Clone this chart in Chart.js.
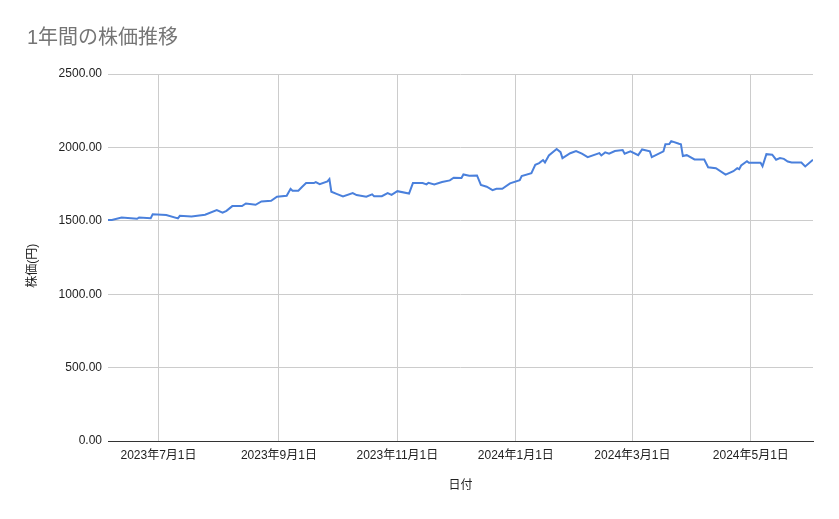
<!DOCTYPE html>
<html>
<head>
<meta charset="utf-8">
<script src="https://cdn.jsdelivr.net/npm/chart.js@4"></script>
<style>
  body { margin: 0; background: #fff; }
  #wrap { width: 839px; height: 519px; }
</style>
</head>
<body>
<div id="wrap"><canvas id="stock_chart"></canvas></div>
<script>
// data
const dates = [
    '2023-06-05', '2023-06-07', '2023-06-12', '2023-06-20', '2023-06-21', '2023-06-27', '2023-06-28',
    '2023-07-05', '2023-07-11', '2023-07-12', '2023-07-18', '2023-07-25', '2023-07-31',
    '2023-08-03', '2023-08-05', '2023-08-08', '2023-08-13', '2023-08-15', '2023-08-20', '2023-08-23', '2023-08-28', '2023-08-31',
    '2023-09-05', '2023-09-07', '2023-09-08', '2023-09-11', '2023-09-13', '2023-09-15', '2023-09-19', '2023-09-20', '2023-09-22', '2023-09-26', '2023-09-27', '2023-09-28',
    '2023-10-01', '2023-10-04', '2023-10-09', '2023-10-11', '2023-10-16', '2023-10-19', '2023-10-20', '2023-10-24', '2023-10-27', '2023-10-29',
    '2023-11-01', '2023-11-07', '2023-11-09', '2023-11-14', '2023-11-16', '2023-11-17', '2023-11-20', '2023-11-24', '2023-11-28', '2023-11-30',
    '2023-12-04', '2023-12-05', '2023-12-08', '2023-12-12', '2023-12-14', '2023-12-17', '2023-12-20', '2023-12-22', '2023-12-25', '2023-12-29',
    '2024-01-03', '2024-01-04', '2024-01-09', '2024-01-11', '2024-01-13', '2024-01-15', '2024-01-16', '2024-01-18', '2024-01-22', '2024-01-24', '2024-01-25', '2024-01-29',
    '2024-02-01', '2024-02-04', '2024-02-07', '2024-02-13', '2024-02-14', '2024-02-16', '2024-02-18', '2024-02-21', '2024-02-25', '2024-02-26', '2024-02-29',
    '2024-03-04', '2024-03-06', '2024-03-10', '2024-03-11', '2024-03-17', '2024-03-18', '2024-03-20', '2024-03-21', '2024-03-25', '2024-03-26', '2024-03-27', '2024-03-29',
    '2024-04-02', '2024-04-07', '2024-04-09', '2024-04-13', '2024-04-18', '2024-04-22', '2024-04-24', '2024-04-25', '2024-04-26', '2024-04-29', '2024-04-30',
    '2024-05-06', '2024-05-07', '2024-05-09', '2024-05-12', '2024-05-14', '2024-05-16', '2024-05-18', '2024-05-20', '2024-05-22', '2024-05-27', '2024-05-29', '2024-06-02'
]

const prices = [
    1505, 1505, 1523, 1514, 1523, 1518, 1545,
    1539, 1516, 1534, 1530, 1541, 1573,
    1555, 1568, 1600, 1600, 1618, 1609, 1632, 1636, 1664,
    1670, 1718, 1705, 1705, 1732, 1757, 1757, 1764, 1750, 1768, 1784, 1698,
    1682, 1666, 1689, 1675, 1664, 1680, 1668, 1668, 1689, 1677,
    1702, 1686, 1757, 1757, 1748, 1759, 1748, 1764, 1775, 1793,
    1791, 1816, 1807, 1809, 1745, 1732, 1709, 1718, 1718, 1755,
    1777, 1805, 1825, 1882, 1893, 1914, 1898, 1945, 1989, 1968, 1927, 1960,
    1975, 1957, 1934, 1961, 1945, 1966, 1957, 1975, 1982, 1957, 1973,
    1947, 1986, 1973, 1934, 1973, 2021, 2023, 2043, 2025, 2021, 1941, 1947,
    1918, 1918, 1865, 1858, 1815, 1838, 1858, 1852, 1877, 1906, 1895,
    1895, 1872, 1954, 1950, 1916, 1927, 1922, 1904, 1897, 1897, 1870, 1916
]

const tick_dates = ['2023-07-01', '2023-09-01', '2023-11-01', '2024-01-01', '2024-03-01', '2024-05-01']
const y_ticks = [0, 500, 1000, 1500, 2000, 2500]

const FONT = "Arial, 'Liberation Sans', 'Noto Sans CJK JP', sans-serif"

function to_ms(s) {
    return new Date(s + 'T00:00:00Z').getTime()
}

function jp_date(ms) {
    let d = new Date(ms)
    return d.getUTCFullYear() + '年' + (d.getUTCMonth() + 1) + '月' + d.getUTCDate() + '日'
}

let points = dates.map((d, i) => ({ x: to_ms(d), y: prices[i] }))

let ctx = document.querySelector("#stock_chart")
new Chart(ctx, {
    type: 'line',
    data: {
        datasets: [{
            label: '株価',
            data: points,
            borderColor: '#4a80dc',
            borderWidth: 2,
            pointRadius: 0,
            tension: 0,
            fill: false
        }]
    },
    options: {
        responsive: true,
        maintainAspectRatio: false,
        animation: false,
        layout: {
            padding: { left: 27, right: 26, top: 0, bottom: 0 }
        },
        plugins: {
            legend: { display: false },
            tooltip: { enabled: false },
            title: {
                display: true,
                text: '1年間の株価推移',
                align: 'start',
                color: '#757575',
                font: { family: FONT, size: 20, weight: 'normal', lineHeight: 1.2 },
                padding: { top: 26, bottom: 24 }
            }
        },
        scales: {
            x: {
                type: 'linear',
                min: to_ms(dates[0]),
                max: to_ms(dates[dates.length - 1]),
                afterBuildTicks: (scale) => {
                    scale.ticks = tick_dates.map(d => ({ value: to_ms(d) }))
                },
                afterFit: (scale) => { scale.height = 78 },
                ticks: {
                    autoSkip: false,
                    maxRotation: 0,
                    padding: 7,
                    color: '#222222',
                    font: { family: FONT, size: 12 },
                    callback: (v) => jp_date(v)
                },
                grid: { color: '#cccccc', drawTicks: false },
                border: { display: true, color: '#333333', width: 1 },
                title: {
                    display: true,
                    text: '日付',
                    color: '#222222',
                    font: { family: FONT, size: 12, lineHeight: 1 },
                    padding: { top: 0, bottom: 27 }
                }
            },
            y: {
                min: 0,
                max: 2500,
                afterBuildTicks: (scale) => {
                    scale.ticks = y_ticks.map(v => ({ value: v }))
                },
                afterFit: (scale) => { scale.width = 81 },
                ticks: {
                    padding: 6,
                    color: '#222222',
                    font: { family: FONT, size: 12 },
                    callback: (v) => v.toFixed(2)
                },
                grid: {
                    color: (c) => c.tick && c.tick.value === 0 ? '#333333' : '#cccccc',
                    drawTicks: false
                },
                border: { display: false },
                title: {
                    display: true,
                    // trailing spaces nudge the rotated label down a little
                    text: '株価(円)     ',
                    color: '#222222',
                    font: { family: FONT, size: 12, lineHeight: 1 },
                    padding: { top: 0, bottom: 0 }
                }
            }
        }
    }
})
</script>
</body>
</html>
